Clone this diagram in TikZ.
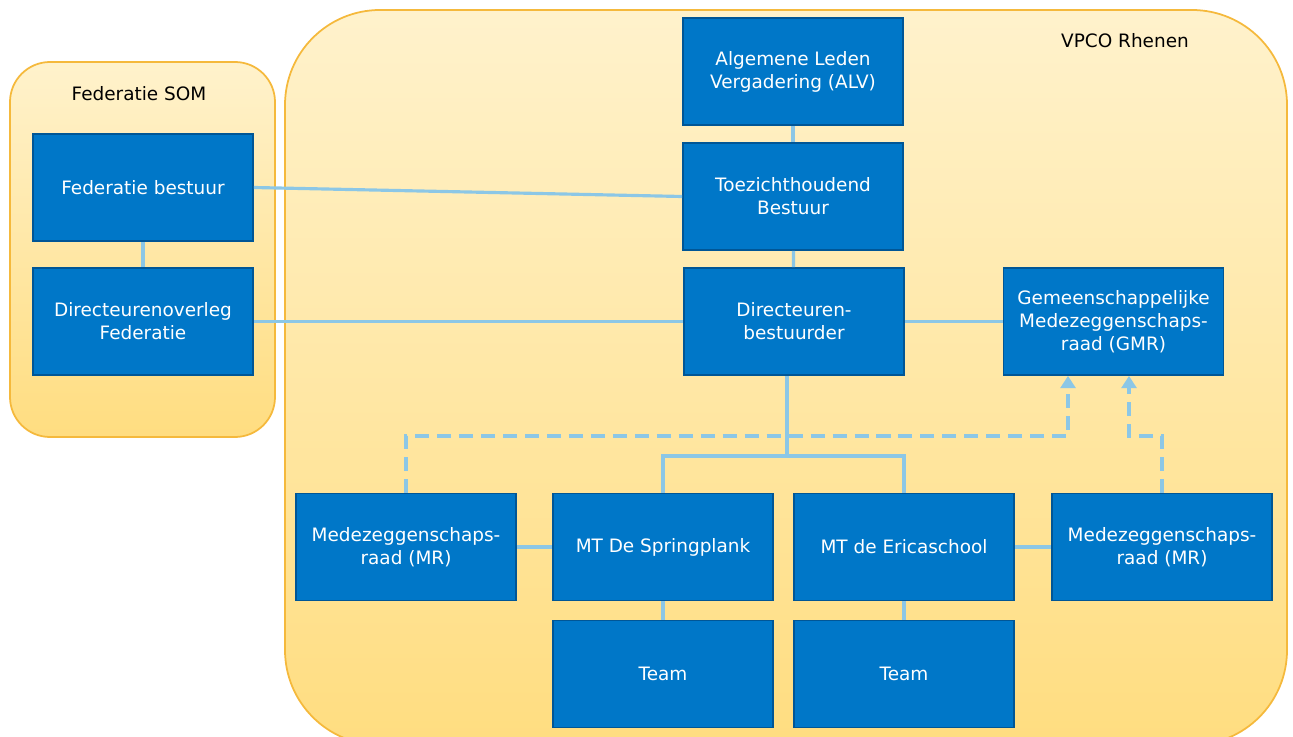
\documentclass[tikz,border=0pt]{standalone}
\usepackage{fontspec}
\setmainfont{DejaVu Sans}
\usetikzlibrary{arrows.meta}
\definecolor{blokblauw}{RGB}{0,119,200}
\definecolor{blokrand}{RGB}{0,86,150}
\definecolor{lijnblauw}{RGB}{140,199,230}
\definecolor{geellicht}{RGB}{255,242,204}
\definecolor{geeldonker}{RGB}{255,221,128}
\definecolor{oranjerand}{RGB}{245,185,60}
\tikzset{
  blok/.style={draw=blokrand,line width=1pt,fill=blokblauw,text=white,align=center,
    minimum width=4.4cm,minimum height=2.14cm,inner sep=2pt,
    font=\fontsize{10.5}{13}\selectfont},
  kader/.style={draw=oranjerand,line width=1pt,top color=geellicht,bottom color=geeldonker},
  lijn/.style={draw=lijnblauw,line width=1.8pt},
  stippel/.style={draw=lijnblauw,line width=2.2pt,dash pattern=on 8pt off 4.5pt,
    -{Triangle[width=8.5pt,length=7pt]}}
}
\begin{document}
\begin{tikzpicture}[x=0.02cm,y=-0.02cm]
    \useasboundingbox (0,0) rectangle (1293,736);

    \draw[kader,rounded corners=0.8cm] (10,62) rectangle (275,437);
    \draw[kader,rounded corners=1.9cm] (285,10) rectangle (1287,745);
    \node[font=\fontsize{10.5}{13}\selectfont] (som) at (139,94) {Federatie SOM};
    \node[font=\fontsize{10.5}{13}\selectfont] (vpco) at (1125,41) {VPCO Rhenen};

    \node[blok] (fb) at (143,187.5) {Federatie bestuur};
    \node[blok] (fdo) at (143,321.5) {Directeurenoverleg\\Federatie};
    \node[blok] (alv) at (793,71.5) {Algemene Leden\\Vergadering (ALV)};
    \node[blok] (tb) at (793,196.5) {Toezichthoudend\\Bestuur};
    \node[blok] (db) at (794,321.5) {Directeuren-\\bestuurder};
    \node[blok] (gmr) at (1113.5,321.5) {Gemeenschappelijke\\Medezeggenschaps-\\raad (GMR)};
    \node[blok] (mrl) at (406,547) {Medezeggenschaps-\\raad (MR)};
    \node[blok] (mts) at (663,547) {MT De Springplank};
    \node[blok] (mte) at (904,547) {MT de Ericaschool};
    \node[blok] (mrr) at (1162,547) {Medezeggenschaps-\\raad (MR)};
    \node[blok] (ts) at (663,674) {Team};
    \node[blok] (te) at (904,674) {Team};

    \coordinate (tak) at (787,456);
    \coordinate (k1) at (1068,436);
    \coordinate (k2) at (1129,436);

    \draw[stippel] (mrl.north) |- (k1) -- (k1 |- gmr.south);
    \draw[stippel] (mrr.north) |- (k2) -- (k2 |- gmr.south);

    \draw[lijn] (alv) -- (tb);
    \draw[lijn] (tb) -- (db);
    \draw[lijn] (fb) -- (fdo);
    \draw[lijn] (fb.east) -- (tb.west);
    \draw[lijn] (fdo.east) -- (db.west);
    \draw[lijn] (db) -- (gmr);
    \draw[lijn] (tak |- db.south) -- (tak);
    \draw[lijn] (mts.north) |- (tak) -| (mte.north);
    \draw[lijn] (mrl) -- (mts);
    \draw[lijn] (mte) -- (mrr);
    \draw[lijn] (mts) -- (ts);
    \draw[lijn] (mte) -- (te);
\end{tikzpicture}
\end{document}
